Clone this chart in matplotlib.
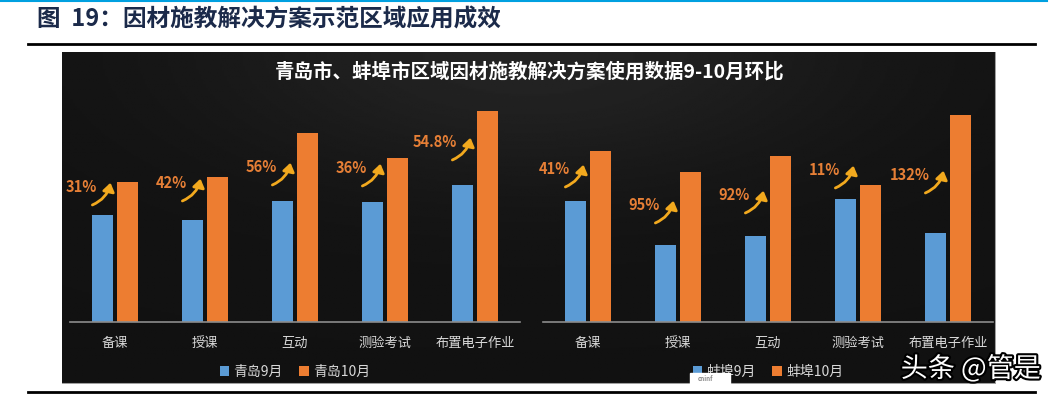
import numpy as np
import matplotlib.pyplot as plt
from matplotlib.patches import FancyArrowPatch, Rectangle
from matplotlib.lines import Line2D
import matplotlib.patheffects as pe

plt.rcParams['font.family'] = ['Noto Sans CJK SC', 'DejaVu Sans']

# data (relative usage)
categories = ['备课', '授课', '互动', '测验考试', '布置电子作业']
qd_sep = [107, 102, 121, 120, 137]
qd_oct = [140, 145, 189, 164, 211]
qd_pct = ['31%', '42%', '56%', '36%', '54.8%']
bb_sep = [121, 77, 86, 123, 89]
bb_oct = [171, 150, 166, 137, 207]
bb_pct = ['41%', '95%', '92%', '11%', '132%']

# where the growth labels sit (height of label centre)
qd_label_h = [135, 139, 155, 154, 180]
bb_label_h = [153, 117, 127, 152, 147]

BLUE = '#5B9BD5'
ORANGE = '#ED7D31'
W, H = 1053, 394

fig = plt.figure(figsize=(W / 100, H / 100), dpi=100)
fig.patch.set_facecolor('white')


def px(x0, y0, x1, y1):
    return [x0 / W, 1 - y1 / H, (x1 - x0) / W, (y1 - y0) / H]


# dark panel with a soft gradient
bg = fig.add_axes(px(62, 52, 996, 384))
yy, xx = np.mgrid[0:1:200j, 0:1:400j]
shade = 0.07 + 0.07 * np.exp(-((xx - 0.5) ** 2 / 0.12 + yy ** 2 / 0.15))
bg.imshow(shade, cmap='gray', vmin=0, vmax=1, aspect='auto', extent=[0, 1, 0, 1])
bg.set_xlim(0, 1)
bg.set_ylim(0, 1)
bg.axis('off')
bg.add_line(Line2D([1, 1], [0, 1], color='#a0a0a0', lw=1.5))
bg.add_line(Line2D([0, 1], [0, 0], color='#a0a0a0', lw=1.5))

# page decorations
fig.add_artist(Line2D([0, 1047 / W], [1 - 0.8 / H] * 2, color='#00A0E0', lw=1.5))
fig.add_artist(Line2D([28 / W, 1035 / W], [1 - 44 / H] * 2, color='black', lw=2))
fig.add_artist(Line2D([28 / W, 1035 / W], [1 - 392 / H] * 2, color='black', lw=2))
fig.text(37 / W, 1 - 20 / H, '图  19：因材施教解决方案示范区域应用成效', fontsize=17,
         fontweight='bold', color='#1B2A4A', va='center', ha='left')

fig.text(530 / W, 1 - 72 / H, '青岛市、蚌埠市区域因材施教解决方案使用数据9-10月环比',
         fontsize=14, fontweight='bold', color='white', ha='center', va='center')


def draw(rect, sep, octo, pct, label_h, names):
    ax = fig.add_axes(rect)
    ax.set_facecolor('none')
    x = np.arange(len(categories)) + 0.5
    ax.bar(x - 0.14, sep, width=0.225, color=BLUE, label=names[0])
    ax.bar(x + 0.14, octo, width=0.225, color=ORANGE, label=names[1])
    ax.set_xlim(0, len(categories))
    ax.set_ylim(0, 222)
    for s in ['top', 'right', 'left']:
        ax.spines[s].set_visible(False)
    ax.spines['bottom'].set_color('#8c8c8c')
    ax.spines['bottom'].set_linewidth(1.2)
    ax.set_yticks([])
    ax.set_xticks(x)
    ax.set_xticklabels(categories, color='#D9D9D9', fontsize=9.5)
    ax.tick_params(axis='x', length=0, pad=11)
    for xi, t, h in zip(x, pct, label_h):
        tx = xi - 0.2
        ax.text(tx, h, t, color='#E67F36', fontsize=10.5, fontweight='bold',
                ha='right', va='center')
        arr = FancyArrowPatch((tx - 0.08, h - 19), (tx + 0.155, h + 7),
                              connectionstyle='arc3,rad=0.3',
                              arrowstyle='-|>,head_length=0.5,head_width=0.35',
                              mutation_scale=10, color='#F2A91E', lw=2)
        ax.add_patch(arr)
    leg = ax.legend(loc='center', bbox_to_anchor=(0.5, -0.225), ncol=2, frameon=False,
                    handlelength=0.7, handleheight=0.7, handletextpad=0.3,
                    columnspacing=1.2, fontsize=10)
    for t in leg.get_texts():
        t.set_color('#D9D9D9')
    return ax


draw(px(70, 100, 520, 322), qd_sep, qd_oct, qd_pct, qd_label_h, ['青岛9月', '青岛10月'])
draw(px(543, 100, 993, 322), bb_sep, bb_oct, bb_pct, bb_label_h, ['蚌埠9月', '蚌埠10月'])

# small source logo
fig.add_artist(Rectangle((690 / W, 1 - 384 / H), 40 / W, 11 / H, color='white'))
fig.text(705 / W, 1 - 378.5 / H, 'cninf', fontsize=4.5, color='#8a8a8a',
         fontweight='bold', ha='center', va='center', style='italic')

# watermark
fig.text(1041 / W, 1 - 369 / H, '头条 @管是', fontsize=19.5, color='white', ha='right',
         va='center', fontweight='medium',
         path_effects=[pe.withStroke(linewidth=3, foreground='black')])

fig.savefig('out.png', dpi=100)
